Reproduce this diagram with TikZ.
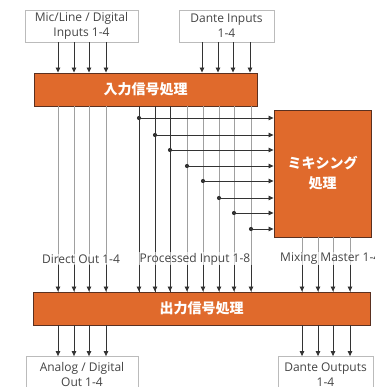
\documentclass[tikz,border=0pt]{standalone}
\usepackage{fontspec}
\setmainfont{Open Sans}
\newfontfamily\jp{Noto Sans CJK JP}
\usetikzlibrary{arrows.meta}
\definecolor{orng}{HTML}{E06A2C}
\definecolor{obord}{HTML}{5A3020}
\definecolor{txt}{HTML}{444444}
\definecolor{lgray}{HTML}{A0A0A0}
\definecolor{dline}{HTML}{333333}
\definecolor{bgray}{HTML}{BBBBBB}
\tikzset{
  iobox/.style={draw=bgray, line width=0.8pt, text=txt, align=center, font=\fontsize{12}{15}\selectfont, inner sep=0pt},
  procbox/.style={draw=obord, fill=orng, line width=0.9pt, text=white, align=center, font=\jp\bfseries\fontsize{14}{20}\selectfont, inner sep=0pt},
  arr/.style={-{Triangle[length=5pt,width=4.5pt]}, line width=0.8pt, draw=dline},
  dlin/.style={line width=0.8pt, draw=dline},
  glin/.style={line width=0.8pt, draw=lgray},
  lbl/.style={fill=white, fill opacity=0.6, text opacity=1, text=txt, inner sep=1pt, font=\fontsize{12}{14}\selectfont},
  dotc/.style={circle, fill=dline, inner sep=0pt, minimum size=4.2pt},
}
\begin{document}
\begin{tikzpicture}[x=1pt,y=-1pt]
\useasboundingbox (0,0) rectangle (374,387);
% boxes
\node[iobox, minimum width=113pt, minimum height=32pt] (micin) at (81.5,26) {Mic/Line / Digital\\Inputs 1-4};
\node[iobox, minimum width=95pt, minimum height=32pt] (dantein) at (226.5,26) {Dante Inputs\\1-4};
\node[procbox, minimum width=223pt, minimum height=33pt] (inproc) at (145.5,89.5) {入力信号処理};
\node[procbox, minimum width=97pt, minimum height=127pt, font=\jp\bfseries\fontsize{14}{20}\selectfont] (mix) at (322.5,173.5) {ミキシング\\処理};
\node[procbox, minimum width=337pt, minimum height=33pt] (outproc) at (201.5,308.5) {出力信号処理};
\node[iobox, minimum width=112pt, minimum height=36pt] (anout) at (82,374.5) {Analog / Digital\\Out 1-4};
\node[iobox, minimum width=95pt, minimum height=36pt] (danteout) at (325.5,374.5) {Dante Outputs\\1-4};
% inputs to input processing
\foreach \x in {58,74,89,106} \draw[arr] (micin.south -| {\x,0}) -- (inproc.north -| {\x,0});
\foreach \x in {202,218,233,250} \draw[arr] (dantein.south -| {\x,0}) -- (inproc.north -| {\x,0});
% direct out
\foreach \x in {58,74,89,106} \draw[glin] (inproc.south -| {\x,0}) -- (outproc.north -| {\x,0});
% processed inputs vertical lines
\foreach \x in {139,155,170} \draw[dlin] (inproc.south -| {\x,0}) -- (outproc.north -| {\x,0});
\foreach \x in {187,203,219,234,251} \draw[glin] (inproc.south -| {\x,0}) -- (outproc.north -| {\x,0});
% taps to mixer
\foreach \x/\y [count=\i] in {139/118,155/135,170/150,187/166,203/181,219/198,234/213,251/229} {
  \coordinate (t\i) at (\x,\y);
  \draw[arr] (t\i) -- (t\i -| mix.west);
  \node[dotc] at (t\i) {};
}
% mixing master
\foreach \x in {302,318,333,350} \draw[glin] (mix.south -| {\x,0}) -- (outproc.north -| {\x,0});
% labels
\node[lbl] (l1) at (81,259) {Direct Out 1-4};
\node[lbl] (l2) at (195,259) {Processed Input 1-8};
\node[lbl, anchor=west] (l3) at (279,259) {Mixing Master 1-4};
% arrow heads into output processing
\foreach \x in {58,74,89,106,139,155,170,187,203,219,234,251,302,318,333,350}
  \draw[arr] ({\x,0} |- l1.south) -- (outproc.north -| {\x,0});
% outputs
\foreach \x in {58,74,89,106} \draw[arr] (outproc.south -| {\x,0}) -- (anout.north -| {\x,0});
\foreach \x in {302,318,333,350} \draw[arr] (outproc.south -| {\x,0}) -- (danteout.north -| {\x,0});
\end{tikzpicture}
\end{document}
